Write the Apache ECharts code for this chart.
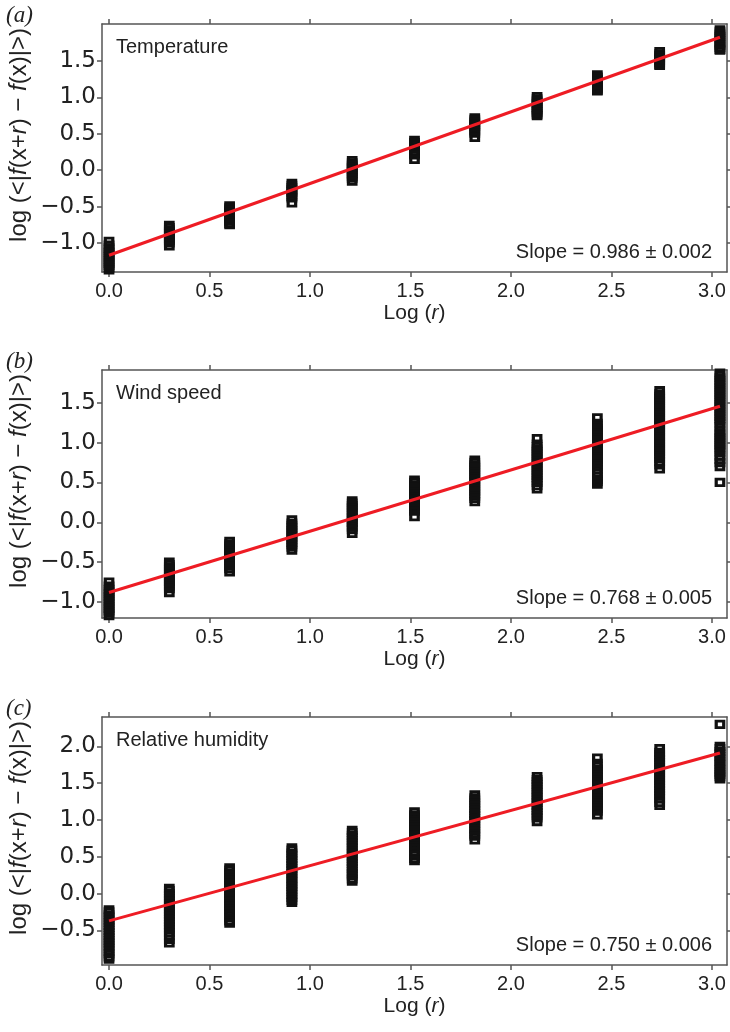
<!DOCTYPE html>
<html>
<head>
<meta charset="utf-8">
<script src="https://cdn.jsdelivr.net/npm/echarts@6/dist/echarts.min.js"></script>
<style>
  html, body { margin: 0; padding: 0; background: #fff; }
  #chart { width: 730px; height: 1032px; }
</style>
</head>
<body>
<div id="chart"></div>
<script>
// Lag positions, log10 of the separation r
const lagX = [0, 0.30, 0.60, 0.91, 1.21, 1.52, 1.82, 2.13, 2.43, 2.74, 3.04];
const xTicks = [0, 0.5, 1, 1.5, 2, 2.5, 3];

// log <|f(x+r) - f(x)|> per lag, one list per lag column
const temperature = [
  [-0.98, -1.03, -1.07, -1.10, -1.13, -1.16, -1.19, -1.22, -1.25, -1.28, -1.31, -1.34, -1.37],
  [-0.76, -0.79, -0.82, -0.85, -0.88, -0.91, -0.94, -0.97, -1.00, -1.04],
  [-0.49, -0.52, -0.55, -0.58, -0.61, -0.64, -0.67, -0.70, -0.73, -0.75],
  [-0.18, -0.21, -0.24, -0.27, -0.30, -0.33, -0.36, -0.38, -0.45],
  [0.13, 0.10, 0.07, 0.04, 0.01, -0.02, -0.05, -0.08, -0.11, -0.15],
  [0.41, 0.38, 0.35, 0.32, 0.29, 0.26, 0.23, 0.21, 0.15],
  [0.72, 0.69, 0.66, 0.63, 0.60, 0.57, 0.54, 0.51, 0.45],
  [1.01, 0.98, 0.95, 0.92, 0.89, 0.86, 0.83, 0.80, 0.77, 0.75],
  [1.31, 1.28, 1.25, 1.22, 1.19, 1.16, 1.13, 1.10, 1.09],
  [1.63, 1.60, 1.57, 1.54, 1.51, 1.48, 1.45, 1.44],
  [1.93, 1.90, 1.87, 1.84, 1.81, 1.78, 1.75, 1.72, 1.69, 1.66, 1.65]
];

const windSpeed = [
  [-0.75, -0.80, -0.84, -0.87, -0.90, -0.93, -0.96, -0.99, -1.02, -1.05, -1.08, -1.11, -1.14, -1.17],
  [-0.50, -0.53, -0.56, -0.59, -0.62, -0.65, -0.68, -0.71, -0.74, -0.77, -0.80, -0.83, -0.88],
  [-0.24, -0.27, -0.30, -0.33, -0.36, -0.39, -0.42, -0.45, -0.48, -0.51, -0.55, -0.58, -0.62],
  [0.03, -0.01, -0.04, -0.07, -0.10, -0.13, -0.16, -0.19, -0.22, -0.25, -0.28, -0.31, -0.35],
  [0.27, 0.24, 0.21, 0.18, 0.15, 0.12, 0.09, 0.06, 0.03, 0.00, -0.03, -0.06, -0.09, -0.14],
  [0.53, 0.50, 0.47, 0.44, 0.41, 0.38, 0.35, 0.32, 0.29, 0.26, 0.23, 0.20, 0.17, 0.14, 0.07],
  [0.78, 0.75, 0.72, 0.69, 0.66, 0.63, 0.60, 0.57, 0.54, 0.51, 0.48, 0.45, 0.42, 0.39, 0.36, 0.33, 0.30, 0.26],
  [1.05, 0.98, 0.95, 0.92, 0.89, 0.86, 0.83, 0.80, 0.77, 0.74, 0.71, 0.68, 0.65, 0.62, 0.59, 0.56, 0.53, 0.50, 0.46, 0.42],
  [1.31, 1.24, 1.21, 1.18, 1.15, 1.12, 1.09, 1.06, 1.03, 1.00, 0.97, 0.94, 0.91, 0.88, 0.85, 0.82, 0.79, 0.76, 0.73, 0.70, 0.66, 0.62, 0.58, 0.54, 0.51, 0.48],
  [1.65, 1.61, 1.58, 1.55, 1.52, 1.49, 1.46, 1.43, 1.40, 1.37, 1.34, 1.31, 1.28, 1.25, 1.22, 1.19, 1.16, 1.13, 1.10, 1.07, 1.04, 1.01, 0.98, 0.95, 0.92, 0.89, 0.86, 0.83, 0.80, 0.76, 0.72, 0.67],
  [1.87, 1.84, 1.81, 1.78, 1.75, 1.72, 1.69, 1.66, 1.63, 1.60, 1.57, 1.54, 1.51, 1.48, 1.45, 1.42, 1.39, 1.36, 1.33, 1.30, 1.27, 1.24, 1.20, 1.15, 1.12, 1.09, 1.06, 1.03, 1.00, 0.97, 0.94, 0.91, 0.88, 0.83, 0.79, 0.75, 0.70, 0.50]
];

const humidity = [
  [-0.22, -0.25, -0.29, -0.32, -0.36, -0.39, -0.43, -0.46, -0.50, -0.53, -0.57, -0.60, -0.64, -0.67, -0.71, -0.74, -0.78, -0.82, -0.86, -0.89],
  [0.07, 0.04, 0.00, -0.03, -0.07, -0.10, -0.14, -0.17, -0.21, -0.24, -0.28, -0.31, -0.35, -0.38, -0.42, -0.45, -0.49, -0.53, -0.57, -0.62, -0.67],
  [0.35, 0.32, 0.28, 0.25, 0.21, 0.18, 0.14, 0.11, 0.07, 0.04, 0.00, -0.03, -0.07, -0.10, -0.14, -0.17, -0.21, -0.24, -0.28, -0.33, -0.37, -0.40],
  [0.62, 0.59, 0.55, 0.52, 0.48, 0.45, 0.41, 0.38, 0.34, 0.31, 0.27, 0.24, 0.20, 0.17, 0.13, 0.10, 0.06, 0.03, -0.01, -0.05, -0.09, -0.12],
  [0.86, 0.83, 0.79, 0.76, 0.72, 0.69, 0.65, 0.62, 0.58, 0.55, 0.51, 0.48, 0.44, 0.41, 0.37, 0.34, 0.30, 0.27, 0.24, 0.20, 0.17],
  [1.11, 1.07, 1.04, 1.00, 0.97, 0.93, 0.90, 0.86, 0.83, 0.79, 0.76, 0.72, 0.69, 0.65, 0.62, 0.57, 0.52, 0.48, 0.45],
  [1.34, 1.30, 1.27, 1.23, 1.20, 1.16, 1.13, 1.09, 1.06, 1.02, 0.99, 0.95, 0.92, 0.88, 0.85, 0.81, 0.78, 0.73],
  [1.59, 1.55, 1.52, 1.48, 1.45, 1.41, 1.38, 1.34, 1.31, 1.27, 1.24, 1.20, 1.17, 1.13, 1.10, 1.06, 1.03, 0.98],
  [1.84, 1.77, 1.73, 1.69, 1.65, 1.61, 1.58, 1.54, 1.51, 1.47, 1.44, 1.40, 1.37, 1.33, 1.30, 1.26, 1.23, 1.19, 1.16, 1.12, 1.07],
  [1.97, 1.92, 1.89, 1.85, 1.82, 1.78, 1.75, 1.71, 1.68, 1.64, 1.61, 1.57, 1.54, 1.50, 1.47, 1.43, 1.40, 1.36, 1.33, 1.29, 1.24, 1.20],
  [2.30, 2.00, 1.97, 1.93, 1.90, 1.86, 1.83, 1.79, 1.76, 1.72, 1.69, 1.65, 1.62, 1.59, 1.56]
];

// Fitted power-law slopes, their errors and intercepts
const panelNames = ['Temperature', 'Wind speed', 'Relative humidity'];
const panelLetters = ['(a)', '(b)', '(c)'];
const slopes = [0.986, 0.768, 0.750];
const slopeErrors = ['0.002', '0.005', '0.006'];
const intercepts = [-1.17, -0.88, -0.37];
const yRanges = [[-1.40, 2.01], [-1.20, 1.91], [-0.97, 2.40]];
const yTicks = [
  [-1.0, -0.5, 0, 0.5, 1.0, 1.5],
  [-1.0, -0.5, 0, 0.5, 1.0, 1.5],
  [-0.5, 0, 0.5, 1.0, 1.5, 2.0]
];
const panelData = [temperature, windSpeed, humidity];
const yTitle = '{n|log (<|}{i|f}{n|(x+}{i|r}{n|) \u2212 }{i|f}{n|(x)|>)}';

// ---- layout & styling ----
const FONT = '"Liberation Sans", Arial, sans-serif';
const WIDE_FONT = '"DejaVu Sans", "Liberation Sans", sans-serif';
const TXT = '#222';
const AXIS = '#555';
const gridLeft = 102, gridWidth = 625, gridHeight = 248;
const gridTops = [24, 370, 717];
const xRange = [-0.035, 3.075];

const fmt = v => (v < 0 ? '\u2212' : '') + Math.abs(v).toFixed(1);
const axisLine = { show: true, onZero: false, lineStyle: { color: AXIS, width: 1.5 } };
const tickStyle = { color: AXIS, width: 1.5 };
const richOf = size => {
  const base = { fontSize: size, fontFamily: FONT, fill: TXT, color: TXT };
  return { n: { ...base }, i: { ...base, fontStyle: 'italic' } };
};

const grid = [], xAxis = [], yAxis = [], series = [], graphic = [];

panelData.forEach((cols, p) => {
  const top = gridTops[p];
  grid.push({ left: gridLeft, top: top, width: gridWidth, height: gridHeight, containLabel: false });

  // bottom axis with labels, top mirror with ticks only
  xAxis.push({
    gridIndex: p, type: 'value', position: 'bottom', min: xRange[0], max: xRange[1],
    axisLine, splitLine: { show: false },
    axisTick: { customValues: xTicks, length: 5, lineStyle: tickStyle },
    axisLabel: { customValues: xTicks, formatter: fmt, margin: 9, fontSize: 20, fontFamily: FONT, color: TXT },
    name: '{n|Log (}{i|r}{n|)}', nameLocation: 'middle', nameGap: 31,
    nameTextStyle: { rich: richOf(21) }
  });
  xAxis.push({
    gridIndex: p, type: 'value', position: 'top', min: xRange[0], max: xRange[1],
    axisLine, splitLine: { show: false },
    axisTick: { customValues: xTicks, length: 5, lineStyle: tickStyle },
    axisLabel: { show: false, customValues: xTicks }
  });

  // left axis with labels, right mirror with ticks only
  yAxis.push({
    gridIndex: p, type: 'value', position: 'left', min: yRanges[p][0], max: yRanges[p][1],
    axisLine, splitLine: { show: false },
    axisTick: { customValues: yTicks[p], length: 5, lineStyle: tickStyle },
    axisLabel: { customValues: yTicks[p], formatter: fmt, margin: 6, fontSize: 23, fontFamily: WIDE_FONT, color: TXT }
  });
  yAxis.push({
    gridIndex: p, type: 'value', position: 'right', min: yRanges[p][0], max: yRanges[p][1],
    axisLine, splitLine: { show: false },
    axisTick: { customValues: yTicks[p], length: 5, lineStyle: tickStyle },
    axisLabel: { show: false, customValues: yTicks[p] }
  });

  // every measurement is an open square; dense stacks merge into solid columns
  const pts = [];
  cols.forEach((vals, k) => vals.forEach(v => pts.push([lagX[k], v])));
  series.push({
    type: 'scatter', xAxisIndex: 2 * p, yAxisIndex: 2 * p, data: pts,
    symbol: 'rect', symbolSize: [7.5, 6.5],
    itemStyle: { color: 'rgba(255,255,255,0)', borderColor: '#111', borderWidth: 3, opacity: 1 },
    silent: true, z: 2
  });

  // least-squares fit line drawn from the stated slope
  const x0 = lagX[0], x1 = lagX[lagX.length - 1];
  series.push({
    type: 'line', xAxisIndex: 2 * p, yAxisIndex: 2 * p,
    data: [[x0, intercepts[p] + slopes[p] * x0], [x1, intercepts[p] + slopes[p] * x1]],
    symbol: 'none', lineStyle: { color: '#ee1c24', width: 3 }, silent: true, z: 3
  });

  // y-axis title, rotated, sitting slightly above the plot's vertical middle
  graphic.push({
    type: 'text', x: 19, y: top + 111, rotation: Math.PI / 2,
    style: { text: yTitle, rich: richOf(24), align: 'center', verticalAlign: 'middle', fill: TXT }
  });
  graphic.push({
    type: 'text', left: 6, top: top - 20,
    style: { text: panelLetters[p], font: 'italic 23px "Liberation Serif", "Times New Roman", serif', fill: TXT }
  });
  graphic.push({
    type: 'text', x: 116, y: top + 23,
    style: { text: panelNames[p], font: '20px ' + FONT, fill: TXT, align: 'left', verticalAlign: 'middle' }
  });
  graphic.push({
    type: 'text', x: 712, y: top + 228,
    style: { text: 'Slope = ' + slopes[p].toFixed(3) + ' \u00b1 ' + slopeErrors[p], font: '20px ' + FONT, fill: TXT, align: 'right', verticalAlign: 'middle' }
  });
});

const chart = echarts.init(document.getElementById('chart'), null, { renderer: 'canvas' });
chart.setOption({ animation: false, backgroundColor: '#fff', grid, xAxis, yAxis, series, graphic });
</script>
</body>
</html>
